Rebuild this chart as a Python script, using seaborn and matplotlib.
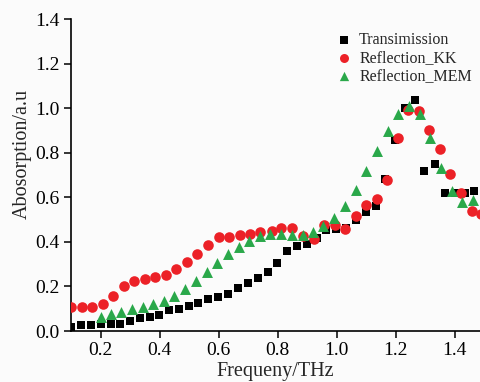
import matplotlib
matplotlib.use("Agg")
import matplotlib.pyplot as plt
import seaborn as sns
import pandas as pd

# ---- data ----
freq_trans = [0.100, 0.133, 0.167, 0.201, 0.234, 0.266, 0.299, 0.333, 0.366, 0.398,
              0.432, 0.465, 0.499, 0.531, 0.565, 0.599, 0.633, 0.666, 0.699, 0.732,
              0.767, 0.799, 0.831, 0.865, 0.898, 0.932, 0.965, 0.999, 1.030, 1.064,
              1.098, 1.132, 1.163, 1.198, 1.232, 1.266, 1.297, 1.331, 1.365, 1.399,
              1.433, 1.464]
abs_trans = [0.019, 0.026, 0.027, 0.030, 0.031, 0.033, 0.045, 0.057, 0.061, 0.073,
             0.094, 0.099, 0.111, 0.127, 0.142, 0.154, 0.168, 0.193, 0.216, 0.238,
             0.265, 0.304, 0.361, 0.380, 0.389, 0.419, 0.452, 0.457, 0.461, 0.500,
             0.533, 0.563, 0.681, 0.859, 1.000, 1.038, 0.717, 0.750, 0.619, 0.619,
             0.619, 0.629]

freq_kk = [0.100, 0.136, 0.172, 0.207, 0.242, 0.278, 0.314, 0.350, 0.386, 0.421,
           0.457, 0.492, 0.527, 0.564, 0.600, 0.635, 0.671, 0.706, 0.741, 0.779,
           0.812, 0.848, 0.886, 0.922, 0.957, 0.993, 1.029, 1.064, 1.100, 1.136,
           1.171, 1.207, 1.241, 1.277, 1.312, 1.349, 1.385, 1.422, 1.458, 1.490]
abs_kk = [0.109, 0.109, 0.109, 0.120, 0.156, 0.200, 0.226, 0.235, 0.244, 0.253,
          0.277, 0.309, 0.345, 0.385, 0.421, 0.422, 0.431, 0.434, 0.443, 0.449,
          0.463, 0.463, 0.427, 0.413, 0.476, 0.475, 0.457, 0.518, 0.567, 0.593,
          0.680, 0.868, 0.993, 0.988, 0.903, 0.819, 0.705, 0.621, 0.539, 0.526]

freq_mem = [0.200, 0.235, 0.271, 0.307, 0.343, 0.379, 0.415, 0.450, 0.486, 0.522,
            0.559, 0.596, 0.632, 0.668, 0.703, 0.739, 0.775, 0.811, 0.847, 0.884,
            0.919, 0.955, 0.992, 1.028, 1.064, 1.100, 1.136, 1.172, 1.208, 1.244,
            1.281, 1.317, 1.353, 1.389, 1.425, 1.461]
abs_mem = [0.064, 0.075, 0.087, 0.097, 0.106, 0.120, 0.136, 0.159, 0.189, 0.225,
           0.266, 0.307, 0.346, 0.379, 0.404, 0.427, 0.437, 0.437, 0.433, 0.430,
           0.443, 0.473, 0.509, 0.560, 0.633, 0.719, 0.807, 0.897, 0.975, 1.011,
           0.973, 0.866, 0.732, 0.629, 0.578, 0.588]

series_names = ["Transimission", "Reflection_KK", "Reflection_MEM"]
x_ticks = [0.2, 0.4, 0.6, 0.8, 1.0, 1.2, 1.4]
y_ticks = [0.0, 0.2, 0.4, 0.6, 0.8, 1.0, 1.2, 1.4]

# ---- styling ----
sns.set_style("ticks")
plt.rcParams["font.family"] = ["Liberation Serif", "DejaVu Serif"]

bg = "#fbfbfb"
fig = plt.figure(figsize=(4.8, 3.82), dpi=100, facecolor=bg)
ax = fig.add_axes([71 / 480, 51 / 382, 1 - 71 / 480, (331 - 19.3) / 382])
ax.set_facecolor(bg)

df_t = pd.DataFrame({"f": freq_trans, "a": abs_trans})
df_k = pd.DataFrame({"f": freq_kk, "a": abs_kk})
df_m = pd.DataFrame({"f": freq_mem, "a": abs_mem})

sns.scatterplot(data=df_t, x="f", y="a", marker="s", color="black", s=36,
                linewidth=0, ax=ax, label=series_names[0], zorder=3)
sns.scatterplot(data=df_k, x="f", y="a", marker="o", color="#ec2127", s=58,
                linewidth=0, ax=ax, label=series_names[1], zorder=4)
sns.scatterplot(data=df_m, x="f", y="a", marker="^", color="#2aa84a", s=62,
                linewidth=0, ax=ax, label=series_names[2], zorder=5)

ax.set_xlim(0.1, 1.485)
ax.set_ylim(0.0, 1.4)
ax.set_xticks(x_ticks)
ax.set_yticks(y_ticks)
ax.set_xticklabels([f"{v:.1f}" for v in x_ticks])
ax.set_yticklabels([f"{v:.1f}" for v in y_ticks])
ax.tick_params(axis="both", direction="out", length=5, width=1.1,
               labelsize=14, colors="black", pad=3)
for side in ("top", "right"):
    ax.spines[side].set_visible(False)
for side in ("left", "bottom"):
    ax.spines[side].set_linewidth(1.2)
    ax.spines[side].set_color("black")

ax.set_xlabel("Frequeny/THz", fontsize=14.5, labelpad=2)
ax.set_ylabel("Abosorption/a.u", fontsize=14.5)
ax.yaxis.set_label_coords(-0.095, 0.568)

leg = ax.legend(loc="upper left", bbox_to_anchor=((328 - 71) / 409, (331 - 26) / 311.7),
                frameon=False, fontsize=11.5, handletextpad=0.35, labelspacing=0.12,
                borderaxespad=0, handlelength=1.2, markerscale=0.85)

fig.savefig("out.png", dpi=100, facecolor=bg)
